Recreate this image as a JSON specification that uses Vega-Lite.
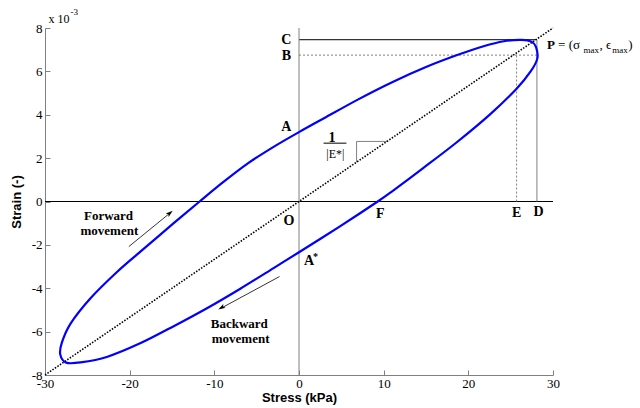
{
  "$schema": "https://vega.github.io/schema/vega-lite/v6.json",
  "width": 508,
  "height": 347,
  "autosize": {"type": "none"},
  "padding": {"left": 45, "top": 28, "right": 87, "bottom": 33},
  "config": {
    "view": {"stroke": null},
    "axis": {
      "grid": false,
      "domainColor": "#808080",
      "tickColor": "#808080",
      "tickSize": -5,
      "labelFont": "Liberation Serif",
      "labelFontSize": 13,
      "labelColor": "#000000",
      "titleFont": "Liberation Sans",
      "titleFontWeight": "bold",
      "titleFontSize": 13,
      "titleColor": "#000000",
      "labelPadding": 8,
      "labelFlush": false,
      "labelExpr": "replace(datum.label, '\u2212', '-')"
    }
  },
  "datasets": {
    "loop": [
      {"i": 1, "stress": -21.5, "strain": -3.25},
      {"i": 2, "stress": -18.7, "strain": -2.3},
      {"i": 3, "stress": -14.8, "strain": -1.0},
      {"i": 4, "stress": -11.74, "strain": 0.0},
      {"i": 5, "stress": -9.0, "strain": 0.88},
      {"i": 6, "stress": -6.0, "strain": 1.77},
      {"i": 7, "stress": -3.0, "strain": 2.52},
      {"i": 8, "stress": 0.0, "strain": 3.2},
      {"i": 9, "stress": 3.0, "strain": 3.85},
      {"i": 10, "stress": 7.0, "strain": 4.71},
      {"i": 11, "stress": 11.0, "strain": 5.5},
      {"i": 12, "stress": 15.0, "strain": 6.2},
      {"i": 13, "stress": 18.6, "strain": 6.74},
      {"i": 14, "stress": 21.8, "strain": 7.16},
      {"i": 15, "stress": 24.2, "strain": 7.39},
      {"i": 16, "stress": 26.3, "strain": 7.45},
      {"i": 17, "stress": 27.5, "strain": 7.36},
      {"i": 18, "stress": 28.0, "strain": 7.12},
      {"i": 19, "stress": 28.15, "strain": 6.6},
      {"i": 20, "stress": 27.4, "strain": 6.02},
      {"i": 21, "stress": 25.7, "strain": 5.2},
      {"i": 22, "stress": 22.6, "strain": 4.03},
      {"i": 23, "stress": 18.6, "strain": 2.72},
      {"i": 24, "stress": 14.7, "strain": 1.55},
      {"i": 25, "stress": 11.0, "strain": 0.47},
      {"i": 26, "stress": 9.3, "strain": 0.0},
      {"i": 27, "stress": 4.7, "strain": -1.18},
      {"i": 28, "stress": 0.0, "strain": -2.34},
      {"i": 29, "stress": -3.0, "strain": -3.07},
      {"i": 30, "stress": -6.93, "strain": -4.02},
      {"i": 31, "stress": -10.87, "strain": -4.92},
      {"i": 32, "stress": -14.8, "strain": -5.75},
      {"i": 33, "stress": -18.7, "strain": -6.53},
      {"i": 34, "stress": -22.7, "strain": -7.17},
      {"i": 35, "stress": -25.8, "strain": -7.42},
      {"i": 36, "stress": -27.5, "strain": -7.43},
      {"i": 37, "stress": -28.2, "strain": -7.05},
      {"i": 38, "stress": -28.0, "strain": -6.5},
      {"i": 39, "stress": -27.0, "strain": -5.64},
      {"i": 40, "stress": -24.6, "strain": -4.45}
    ],
    "blackLines": [
      {"x": -30, "y": 0, "x2": 30, "y2": 0},
      {"x": 0, "y": 7.46, "x2": 28.1, "y2": 7.46},
      {"x": 2.9, "y": 2.69, "x2": 5.6, "y2": 2.69}
    ],
    "grayLines": [
      {"x": 0, "y": -8, "x2": 0, "y2": 8},
      {"x": 28.1, "y": 0, "x2": 28.1, "y2": 7.46},
      {"x": 6.8, "y": 1.81, "x2": 6.8, "y2": 2.77},
      {"x": 6.8, "y": 2.77, "x2": 10.4, "y2": 2.77}
    ],
    "dashedLines": [
      {"x": 0, "y": 6.75, "x2": 28.1, "y2": 6.75},
      {"x": 25.7, "y": 0, "x2": 25.7, "y2": 6.75}
    ],
    "diagonal": [
      {"x": -30, "y": -8, "x2": 30, "y2": 8}
    ],
    "arrowShafts": [
      {"x": -20.1, "y": -2.08, "x2": -15.2, "y2": -0.52},
      {"x": -2.3, "y": -3.46, "x2": -9.2, "y2": -4.92}
    ],
    "arrowHeadFwd": [{"x": -15.3, "y": -0.55}],
    "arrowHeadBwd": [{"x": -9.1, "y": -4.88}],
    "letters": [
      {"x": -1.5, "y": 7.46, "t": "C"},
      {"x": -1.5, "y": 6.69, "t": "B"},
      {"x": -1.5, "y": 3.43, "t": "A"},
      {"x": -1.2, "y": -0.88, "t": "O"},
      {"x": 9.6, "y": -0.57, "t": "F"},
      {"x": 25.7, "y": -0.54, "t": "E"},
      {"x": 28.3, "y": -0.49, "t": "D"},
      {"x": 3.9, "y": 2.95, "t": "1"}
    ],
    "aStar": [{"x": 0.6, "y": -2.75, "t": "A"}],
    "star": [{"x": 1.65, "y": -2.58, "t": "*"}],
    "words": [
      {"x": -22.5, "y": -0.65, "t": "Forward"},
      {"x": -22.4, "y": -1.34, "t": "movement"},
      {"x": -7.05, "y": -5.64, "t": "Backward"},
      {"x": -6.9, "y": -6.34, "t": "movement"}
    ],
    "modulus": [{"x": 4.3, "y": 2.2, "t": "|E*|"}],
    "pBold": [{"x": 29.3, "y": 7.2, "t": "P"}],
    "pMain": [
      {"x": 30.6, "y": 7.2, "t": "= (σ"},
      {"x": 35.5, "y": 7.2, "t": ", ϵ"},
      {"x": 38.9, "y": 7.2, "t": ")"}
    ],
    "pSub": [
      {"x": 33.6, "y": 7.0, "t": "max"},
      {"x": 37.0, "y": 7.0, "t": "max"}
    ],
    "expBase": [{"x": -29.6, "y": 8.4, "t": "x 10"}],
    "expPow": [{"x": -27.0, "y": 8.72, "t": "-3"}]
  },
  "layer": [
    {
      "data": {"name": "blackLines"},
      "mark": {"type": "rule", "color": "#000000", "strokeWidth": 1},
      "encoding": {
        "x": {"field": "x", "type": "quantitative", "scale": {"domain": [-30, 30], "nice": false}, "axis": {"values": [-30, -20, -10, 0, 10, 20, 30], "title": "Stress (kPa)", "titlePadding": 1, "labelPadding": 7}},
        "y": {"field": "y", "type": "quantitative", "scale": {"domain": [-8, 8], "nice": false}, "axis": {"values": [-8, -6, -4, -2, 0, 2, 4, 6, 8], "title": "Strain (-)", "titlePadding": 8}},
        "x2": {"field": "x2"},
        "y2": {"field": "y2"}
      }
    },
    {
      "data": {"name": "grayLines"},
      "mark": {"type": "rule", "color": "#808080", "strokeWidth": 1},
      "encoding": {
        "x": {"field": "x", "type": "quantitative"},
        "y": {"field": "y", "type": "quantitative"},
        "x2": {"field": "x2"},
        "y2": {"field": "y2"}
      }
    },
    {
      "data": {"name": "dashedLines"},
      "mark": {"type": "rule", "color": "#808080", "strokeWidth": 1, "strokeDash": [2, 2]},
      "encoding": {
        "x": {"field": "x", "type": "quantitative"},
        "y": {"field": "y", "type": "quantitative"},
        "x2": {"field": "x2"},
        "y2": {"field": "y2"}
      }
    },
    {
      "data": {"name": "diagonal"},
      "mark": {"type": "rule", "color": "#000000", "strokeWidth": 1.6, "strokeDash": [1.5, 1.5]},
      "encoding": {
        "x": {"field": "x", "type": "quantitative"},
        "y": {"field": "y", "type": "quantitative"},
        "x2": {"field": "x2"},
        "y2": {"field": "y2"}
      }
    },
    {
      "data": {"name": "loop"},
      "mark": {"type": "line", "color": "#0000ff", "strokeWidth": 2.2, "interpolate": "cardinal-closed", "tension": 0.1},
      "encoding": {
        "x": {"field": "stress", "type": "quantitative"},
        "y": {"field": "strain", "type": "quantitative"},
        "order": {"field": "i", "type": "quantitative"}
      }
    },
    {
      "data": {"name": "arrowShafts"},
      "mark": {"type": "rule", "color": "#000000", "strokeWidth": 0.8},
      "encoding": {
        "x": {"field": "x", "type": "quantitative"},
        "y": {"field": "y", "type": "quantitative"},
        "x2": {"field": "x2"},
        "y2": {"field": "y2"}
      }
    },
    {
      "data": {"name": "arrowHeadFwd"},
      "mark": {"type": "point", "shape": "M0,-1L0.55,0.7L0,0.3L-0.55,0.7Z", "filled": true, "color": "#000000", "size": 70, "angle": 51, "opacity": 1},
      "encoding": {
        "x": {"field": "x", "type": "quantitative"},
        "y": {"field": "y", "type": "quantitative"}
      }
    },
    {
      "data": {"name": "arrowHeadBwd"},
      "mark": {"type": "point", "shape": "M0,-1L0.55,0.7L0,0.3L-0.55,0.7Z", "filled": true, "color": "#000000", "size": 70, "angle": 240, "opacity": 1},
      "encoding": {
        "x": {"field": "x", "type": "quantitative"},
        "y": {"field": "y", "type": "quantitative"}
      }
    },
    {
      "data": {"name": "letters"},
      "mark": {"type": "text", "font": "Liberation Serif", "fontWeight": "bold", "fontSize": 14, "color": "#000000", "align": "center", "baseline": "middle"},
      "encoding": {
        "x": {"field": "x", "type": "quantitative"},
        "y": {"field": "y", "type": "quantitative"},
        "text": {"field": "t"}
      }
    },
    {
      "data": {"name": "aStar"},
      "mark": {"type": "text", "font": "Liberation Serif", "fontWeight": "bold", "fontSize": 14, "color": "#000000", "align": "left", "baseline": "middle"},
      "encoding": {
        "x": {"field": "x", "type": "quantitative"},
        "y": {"field": "y", "type": "quantitative"},
        "text": {"field": "t"}
      }
    },
    {
      "data": {"name": "star"},
      "mark": {"type": "text", "font": "Liberation Serif", "fontWeight": "bold", "fontSize": 10, "color": "#000000", "align": "left", "baseline": "middle"},
      "encoding": {
        "x": {"field": "x", "type": "quantitative"},
        "y": {"field": "y", "type": "quantitative"},
        "text": {"field": "t"}
      }
    },
    {
      "data": {"name": "words"},
      "mark": {"type": "text", "font": "Liberation Serif", "fontWeight": "bold", "fontSize": 13, "color": "#000000", "align": "center", "baseline": "middle"},
      "encoding": {
        "x": {"field": "x", "type": "quantitative"},
        "y": {"field": "y", "type": "quantitative"},
        "text": {"field": "t"}
      }
    },
    {
      "data": {"name": "modulus"},
      "mark": {"type": "text", "font": "Liberation Serif", "fontSize": 12, "color": "#000000", "align": "center", "baseline": "middle"},
      "encoding": {
        "x": {"field": "x", "type": "quantitative"},
        "y": {"field": "y", "type": "quantitative"},
        "text": {"field": "t"}
      }
    },
    {
      "data": {"name": "pBold"},
      "mark": {"type": "text", "font": "Liberation Serif", "fontWeight": "bold", "fontSize": 13, "color": "#000000", "align": "left", "baseline": "middle"},
      "encoding": {
        "x": {"field": "x", "type": "quantitative"},
        "y": {"field": "y", "type": "quantitative"},
        "text": {"field": "t"}
      }
    },
    {
      "data": {"name": "pMain"},
      "mark": {"type": "text", "font": "Liberation Serif", "fontSize": 13, "color": "#000000", "align": "left", "baseline": "middle"},
      "encoding": {
        "x": {"field": "x", "type": "quantitative"},
        "y": {"field": "y", "type": "quantitative"},
        "text": {"field": "t"}
      }
    },
    {
      "data": {"name": "pSub"},
      "mark": {"type": "text", "font": "Liberation Serif", "fontSize": 9, "color": "#000000", "align": "left", "baseline": "middle"},
      "encoding": {
        "x": {"field": "x", "type": "quantitative"},
        "y": {"field": "y", "type": "quantitative"},
        "text": {"field": "t"}
      }
    },
    {
      "data": {"name": "expBase"},
      "mark": {"type": "text", "font": "Liberation Serif", "fontSize": 12, "color": "#000000", "align": "left", "baseline": "middle"},
      "encoding": {
        "x": {"field": "x", "type": "quantitative"},
        "y": {"field": "y", "type": "quantitative"},
        "text": {"field": "t"}
      }
    },
    {
      "data": {"name": "expPow"},
      "mark": {"type": "text", "font": "Liberation Serif", "fontSize": 9, "color": "#000000", "align": "left", "baseline": "middle"},
      "encoding": {
        "x": {"field": "x", "type": "quantitative"},
        "y": {"field": "y", "type": "quantitative"},
        "text": {"field": "t"}
      }
    }
  ]
}
